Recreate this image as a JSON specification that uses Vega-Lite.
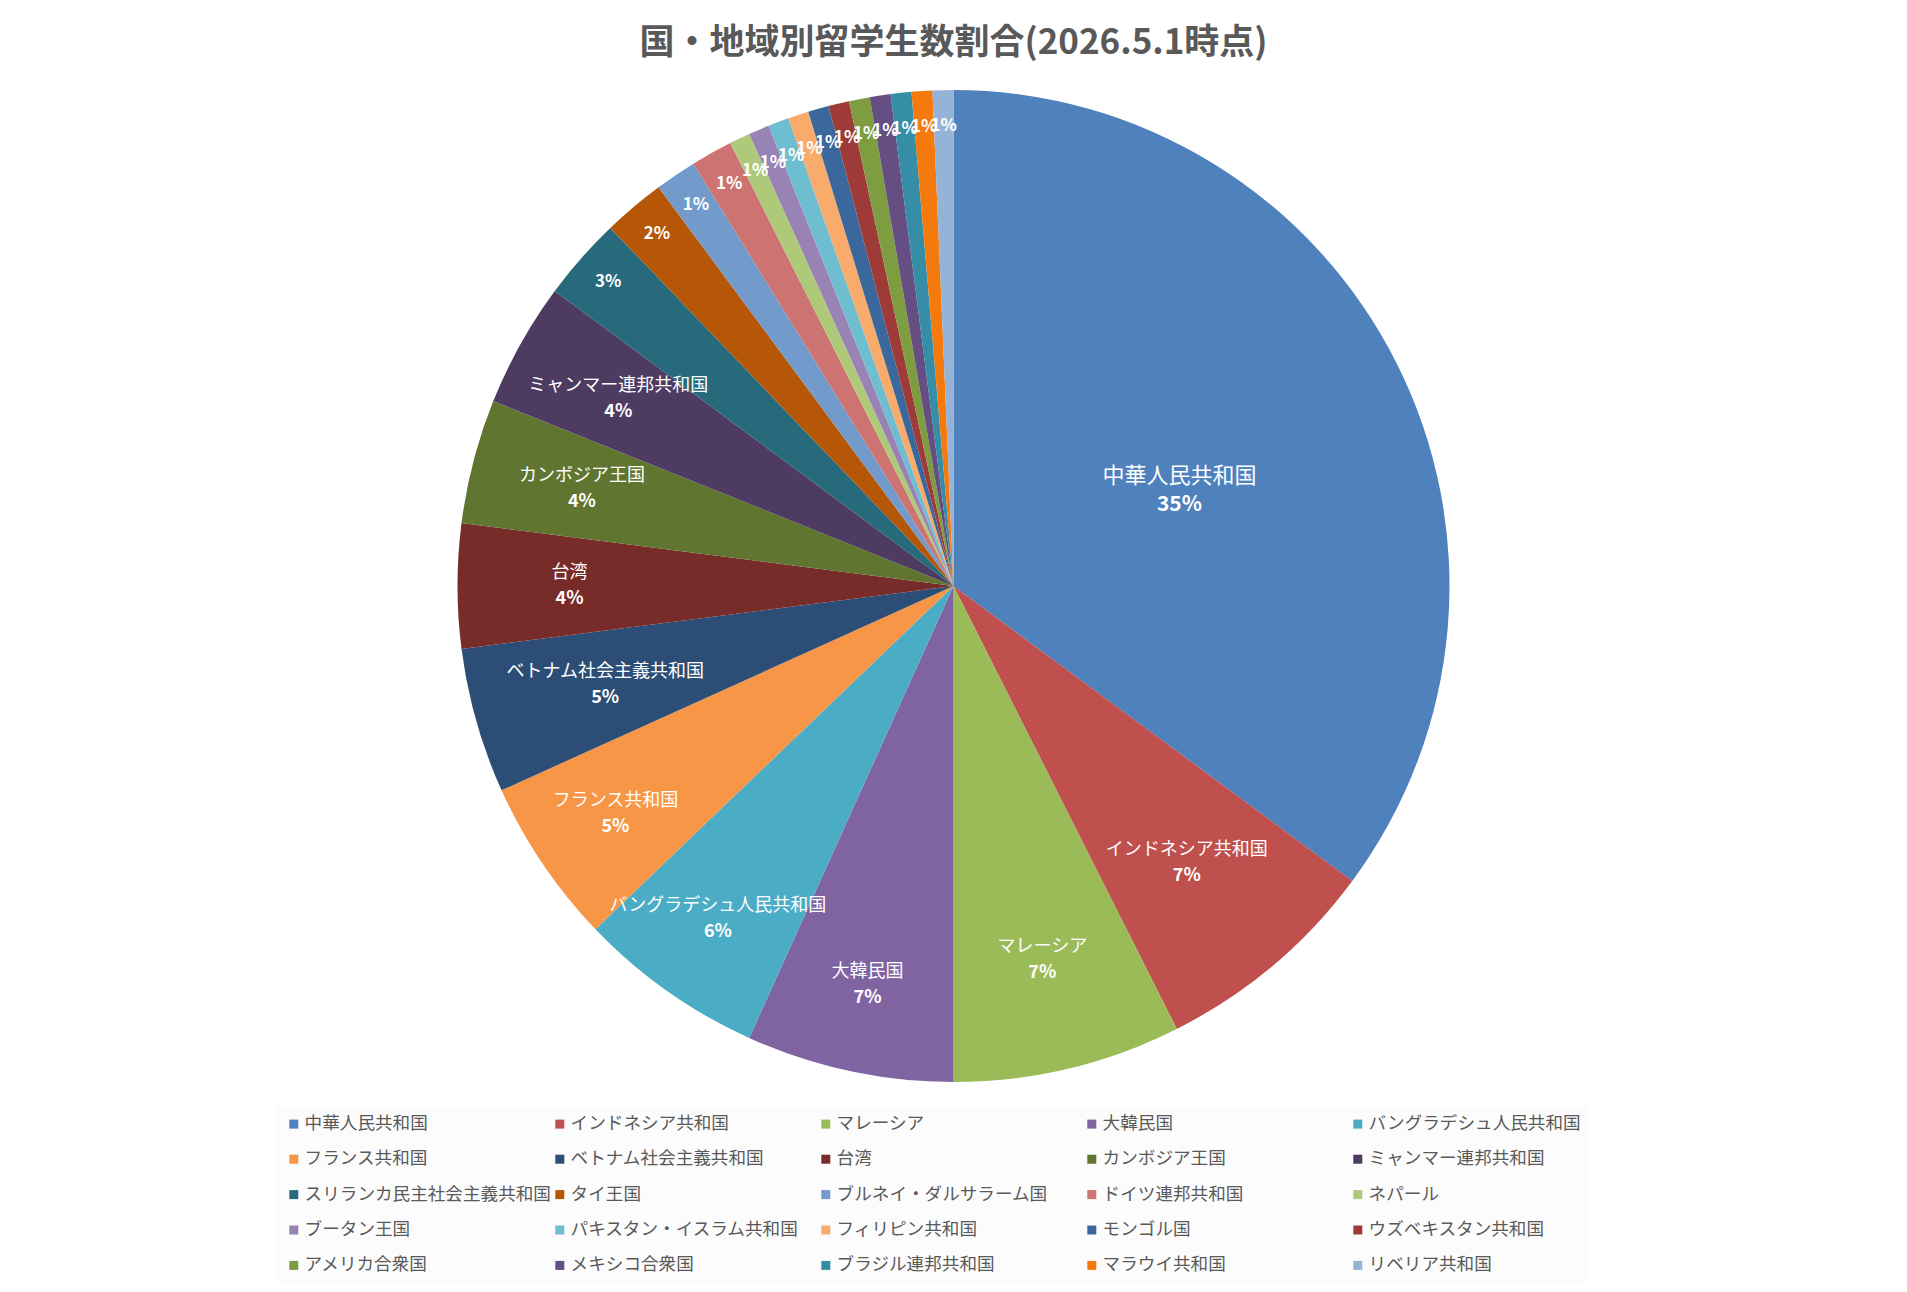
{
  "$schema": "https://vega.github.io/schema/vega-lite/v6.json",
  "width": 1907,
  "height": 1032,
  "autosize": {"type": "none"},
  "padding": {"top": 70, "left": 0, "right": 0, "bottom": 190},
  "background": "#ffffff",
  "config": {"view": {"stroke": null}, "font": "Noto Sans CJK JP"},
  "title": {
    "text": "国・地域別留学生数割合(2026.5.1時点)",
    "font": "Noto Sans CJK JP",
    "fontSize": 35,
    "fontWeight": "bold",
    "color": "#595959",
    "anchor": "middle",
    "offset": 9
  },
  "data": {
    "values": [
      {"idx": 1, "name": "中華人民共和国", "count": 52},
      {"idx": 2, "name": "インドネシア共和国", "count": 11},
      {"idx": 3, "name": "マレーシア", "count": 11},
      {"idx": 4, "name": "大韓民国", "count": 10},
      {"idx": 5, "name": "バングラデシュ人民共和国", "count": 9},
      {"idx": 6, "name": "フランス共和国", "count": 8},
      {"idx": 7, "name": "ベトナム社会主義共和国", "count": 7},
      {"idx": 8, "name": "台湾", "count": 6},
      {"idx": 9, "name": "カンボジア王国", "count": 6},
      {"idx": 10, "name": "ミャンマー連邦共和国", "count": 6},
      {"idx": 11, "name": "スリランカ民主社会主義共和国", "count": 4},
      {"idx": 12, "name": "タイ王国", "count": 3},
      {"idx": 13, "name": "ブルネイ・ダルサラーム国", "count": 2},
      {"idx": 14, "name": "ドイツ連邦共和国", "count": 2},
      {"idx": 15, "name": "ネパール", "count": 1},
      {"idx": 16, "name": "ブータン王国", "count": 1},
      {"idx": 17, "name": "パキスタン・イスラム共和国", "count": 1},
      {"idx": 18, "name": "フィリピン共和国", "count": 1},
      {"idx": 19, "name": "モンゴル国", "count": 1},
      {"idx": 20, "name": "ウズベキスタン共和国", "count": 1},
      {"idx": 21, "name": "アメリカ合衆国", "count": 1},
      {"idx": 22, "name": "メキシコ合衆国", "count": 1},
      {"idx": 23, "name": "ブラジル連邦共和国", "count": 1},
      {"idx": 24, "name": "マラウイ共和国", "count": 1},
      {"idx": 25, "name": "リベリア共和国", "count": 1}
    ]
  },
  "transform": [
    {"joinaggregate": [{"op": "sum", "field": "count", "as": "total"}]},
    {"calculate": "datum.count / datum.total", "as": "pct"}
  ],
  "encoding": {
    "theta": {"field": "count", "type": "quantitative", "stack": true},
    "order": {"field": "idx", "type": "quantitative"}
  },
  "layer": [
    {
      "mark": {"type": "arc", "outerRadius": 496, "stroke": null},
      "encoding": {
        "color": {
          "field": "name",
          "type": "nominal",
          "scale": {
            "domain": ["中華人民共和国", "インドネシア共和国", "マレーシア", "大韓民国", "バングラデシュ人民共和国", "フランス共和国", "ベトナム社会主義共和国", "台湾", "カンボジア王国", "ミャンマー連邦共和国", "スリランカ民主社会主義共和国", "タイ王国", "ブルネイ・ダルサラーム国", "ドイツ連邦共和国", "ネパール", "ブータン王国", "パキスタン・イスラム共和国", "フィリピン共和国", "モンゴル国", "ウズベキスタン共和国", "アメリカ合衆国", "メキシコ合衆国", "ブラジル連邦共和国", "マラウイ共和国", "リベリア共和国"],
            "range": ["#4F81BD", "#C0504D", "#9BBB59", "#8064A2", "#4BACC6", "#F79646", "#2C4D75", "#772C2A", "#5F7530", "#4D3B62", "#276A7C", "#B65708", "#729ACA", "#CD7371", "#AFC97A", "#9983B5", "#6FBDD1", "#F9AB6B", "#3A679C", "#9E3B38", "#7E9D40", "#654E82", "#358DA6", "#F47A0E", "#95B3D7"]
          },
          "legend": {
            "title": null,
            "orient": "none",
            "legendX": 276,
            "legendY": 1036,
            "columns": 5,
            "direction": "horizontal",
            "gridAlign": "all",
            "columnPadding": 0,
            "rowPadding": 16.4,
            "padding": 9,
            "fillColor": "#fcfcfc",
            "strokeColor": null,
            "symbolType": "square",
            "symbolSize": 81,
            "symbolStrokeWidth": 0,
            "labelOffset": 2,
            "labelFont": "Noto Sans CJK JP",
            "labelFontSize": 17.6,
            "labelColor": "#595959",
            "labelLimit": 400
          }
        }
      }
    },
    {
      "mark": {"type": "text", "radius": 253, "dy": 4, "fontSize": 22, "color": "#ffffff", "font": "Noto Sans CJK JP"},
      "encoding": {
        "text": {"condition": {"test": "datum.idx === 1", "field": "name"}, "value": ""}
      }
    },
    {
      "mark": {"type": "text", "radius": 253, "dy": 33, "fontSize": 21, "fontWeight": "bold", "color": "#ffffff", "font": "Noto Sans CJK JP"},
      "encoding": {
        "text": {"condition": {"test": "datum.idx === 1", "field": "pct", "format": ".0%"}, "value": ""}
      }
    },
    {
      "mark": {"type": "text", "radius": 362, "dy": -13, "fontSize": 18, "color": "#ffffff", "font": "Noto Sans CJK JP"},
      "encoding": {
        "text": {"condition": {"test": "datum.idx === 2 || datum.idx === 7", "field": "name"}, "value": ""}
      }
    },
    {
      "mark": {"type": "text", "radius": 362, "dy": 13, "fontSize": 18, "fontWeight": "bold", "color": "#ffffff", "font": "Noto Sans CJK JP"},
      "encoding": {
        "text": {"condition": {"test": "datum.idx === 2 || datum.idx === 7", "field": "pct", "format": ".0%"}, "value": ""}
      }
    },
    {
      "mark": {"type": "text", "radius": 408, "dy": -13, "fontSize": 18, "color": "#ffffff", "font": "Noto Sans CJK JP"},
      "encoding": {
        "text": {"condition": {"test": "datum.idx >= 4 && datum.idx <= 6", "field": "name"}, "value": ""}
      }
    },
    {
      "mark": {"type": "text", "radius": 408, "dy": 13, "fontSize": 18, "fontWeight": "bold", "color": "#ffffff", "font": "Noto Sans CJK JP"},
      "encoding": {
        "text": {"condition": {"test": "datum.idx >= 4 && datum.idx <= 6", "field": "pct", "format": ".0%"}, "value": ""}
      }
    },
    {
      "mark": {"type": "text", "radius": 384, "dy": -13, "fontSize": 18, "color": "#ffffff", "font": "Noto Sans CJK JP"},
      "encoding": {
        "text": {"condition": {"test": "datum.idx === 3 || (datum.idx >= 8 && datum.idx <= 10)", "field": "name"}, "value": ""}
      }
    },
    {
      "mark": {"type": "text", "radius": 384, "dy": 13, "fontSize": 18, "fontWeight": "bold", "color": "#ffffff", "font": "Noto Sans CJK JP"},
      "encoding": {
        "text": {"condition": {"test": "datum.idx === 3 || (datum.idx >= 8 && datum.idx <= 10)", "field": "pct", "format": ".0%"}, "value": ""}
      }
    },
    {
      "mark": {"type": "text", "radius": 460, "dy": 0, "fontSize": 17, "fontWeight": "bold", "color": "#ffffff", "font": "Noto Sans CJK JP"},
      "encoding": {
        "text": {"condition": {"test": "datum.idx > 10", "field": "pct", "format": ".0%"}, "value": ""}
      }
    }
  ]
}
